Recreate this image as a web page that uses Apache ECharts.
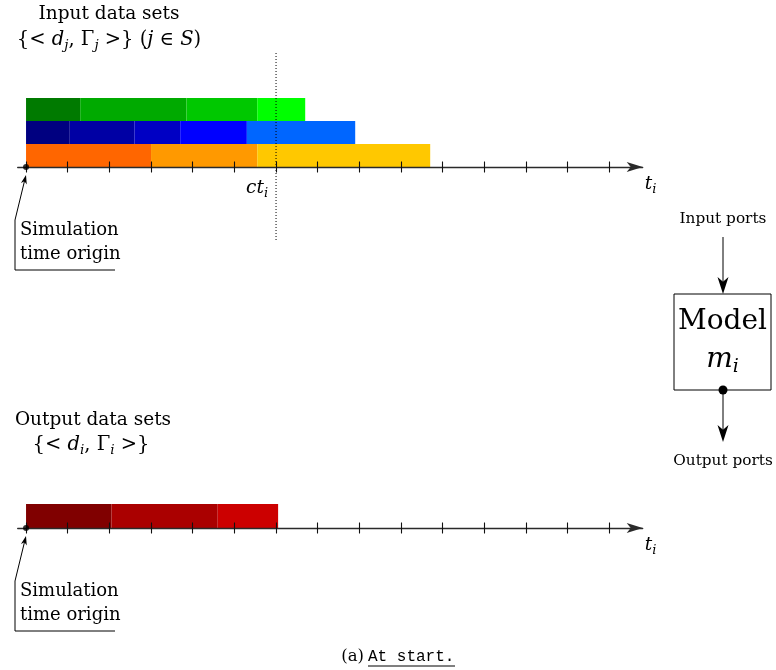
<!DOCTYPE html>
<html lang="en">
<head>
<meta charset="UTF-8">
<title>At start</title>
<script src="https://cdn.jsdelivr.net/npm/echarts@6/dist/echarts.min.js"></script>
<style>
html, body {margin: 0; background: #fff}
#main {width: 776px; height: 670px}
</style>
</head>
<body>
<div id="main"></div>
<script type="text/javascript">
// time axis ticks and the current time ct_i
var ticks = [0, 1, 2, 3, 4, 5, 6, 7, 8, 9, 10, 11, 12, 13, 14];
var currentTime = 6;

// segment boundaries of each data set (time units)
var greenEdges = [0, 1.3, 3.85, 5.55, 6.7];
var blueEdges = [0, 1.05, 2.6, 3.7, 5.3, 7.9];
var orangeEdges = [0, 3, 5.55, 9.7];
var redEdges = [0, 2.05, 4.6, 6.05];

var greenColors = ['#007a00', '#00aa00', '#00c800', '#00ff00'];
var blueColors = ['#000080', '#0000a4', '#0000c4', '#0000ff', '#0066ff'];
var orangeColors = ['#ff6600', '#ff9900', '#ffc800'];
var redColors = ['#800000', '#aa0000', '#cc0000'];

var SERIF = '"DejaVu Serif", serif';
var MONO = '"Liberation Mono", monospace';

function segments(edges, colors, row) {
    var out = [];
    for (var i = 0; i < edges.length - 1; i++) {
        out.push({value: [edges[i], edges[i + 1], row], itemStyle: {color: colors[i]}});
    }
    return out;
}

function renderSeg(params, api) {
    var p0 = api.coord([api.value(0), api.value(2) + 1]);
    var p1 = api.coord([api.value(1), api.value(2)]);
    return {
        type: 'rect',
        shape: {x: p0[0], y: p0[1], width: p1[0] - p0[0], height: p1[1] - p0[1]},
        style: {fill: api.visual('color')}
    };
}

function mathRich(size, subSize) {
    return {
        i: {fontFamily: SERIF, fontStyle: 'italic', fontSize: size, lineHeight: size + 6, color: '#000'},
        s: {fontFamily: SERIF, fontStyle: 'italic', fontSize: subSize, lineHeight: subSize + 2,
            verticalAlign: 'bottom', color: '#000'}
    };
}

function txt(x, y, text, size, align, extra) {
    var style = {text: text, x: x, y: y, fontFamily: SERIF, fontSize: size, lineHeight: size + 6,
        fill: '#000', align: align || 'center', verticalAlign: 'middle'};
    for (var k in (extra || {})) style[k] = extra[k];
    return {type: 'text', style: style, z: 20};
}

// stealth arrow head, tip at (x, y), coming from (fx, fy)
function head(x, y, fx, fy, len, hw) {
    var dx = x - fx, dy = y - fy;
    var d = Math.sqrt(dx * dx + dy * dy);
    dx /= d; dy /= d;
    var bx = x - dx * len, by = y - dy * len;
    var nx = x - dx * len * 0.72, ny = y - dy * len * 0.72;
    return {
        type: 'polygon', z: 20,
        shape: {points: [[x, y], [bx - dy * hw, by + dx * hw], [nx, ny], [bx + dy * hw, by - dx * hw]]},
        style: {fill: '#000'}
    };
}

function line(points) {
    return {type: 'polyline', z: 20, shape: {points: points},
        style: {stroke: '#000', lineWidth: 1, fill: null}};
}

function originNote(dy) {
    return [
        line([[115, 270 + dy], [15, 270 + dy], [15, 220 + dy], [24.5, 181 + dy]]),
        head(26, 175 + dy, 15, 220 + dy, 9, 3),
        txt(20, 230 + dy, 'Simulation', 18, 'left'),
        txt(20, 254 + dy, 'time origin', 18, 'left')
    ];
}

var inputData = [].concat(
    segments(orangeEdges, orangeColors, 0),
    segments(blueEdges, blueColors, 1),
    segments(greenEdges, greenColors, 2)
);
var outputData = segments(redEdges, redColors, 0);

var gridLeft = 17.7, gridWidth = 625;
var axisMin = -0.2, axisMax = 14.8;

function mainAxis(gridIndex, withLabel) {
    return {
        type: 'value', gridIndex: gridIndex, min: axisMin, max: axisMax, position: 'bottom', z: 5,
        splitLine: {show: false},
        axisLine: {onZero: false, lineStyle: {color: '#2a2a2a', width: 1.3},
            symbol: ['none', 'arrow'], symbolSize: [7.5, 16]},
        axisTick: {customValues: ticks, length: 5.5, lineStyle: {color: '#111', width: 1.1}},
        axisLabel: withLabel ? {
            customValues: [currentTime], align: 'right', padding: [0, 8, 0, 0], margin: 9,
            color: '#000',
            formatter: function () { return '{i|ct}{s|i}'; },
            rich: mathRich(18.5, 13)
        } : {show: false},
        name: '{i|t}{s|i}', nameLocation: 'end', nameGap: 2,
        nameTextStyle: {verticalAlign: 'top', padding: [5, 0, 0, 0], color: '#000', rich: mathRich(18.5, 13)}
    };
}

function upTicks(gridIndex) {
    return {
        type: 'value', gridIndex: gridIndex, min: axisMin, max: axisMax, position: 'bottom', z: 5,
        splitLine: {show: false},
        axisLine: {show: false, onZero: false},
        axisTick: {customValues: ticks, inside: true, length: 5.5, lineStyle: {color: '#111', width: 1.1}},
        axisLabel: {show: false}
    };
}

var myChart = echarts.init(document.getElementById('main'));

myChart.setOption({
    animation: false,
    backgroundColor: '#fff',
    grid: [
        {left: gridLeft, width: gridWidth, top: 98, height: 69},
        {left: gridLeft, width: gridWidth, top: 52, height: 188},
        {left: gridLeft, width: gridWidth, top: 504, height: 24}
    ],
    xAxis: [
        mainAxis(0, true),
        upTicks(0),
        {type: 'value', gridIndex: 1, min: axisMin, max: axisMax, show: false},
        mainAxis(2, false),
        upTicks(2)
    ],
    yAxis: [
        {type: 'value', gridIndex: 0, min: 0, max: 3, show: false},
        {type: 'value', gridIndex: 1, min: 0, max: 1, show: false},
        {type: 'value', gridIndex: 2, min: 0, max: 1, show: false}
    ],
    series: [
        {
            name: 'input', type: 'custom', xAxisIndex: 0, yAxisIndex: 0,
            renderItem: renderSeg, encode: {x: [0, 1], y: 2}, data: inputData
        },
        {
            name: 'ct', type: 'line', xAxisIndex: 2, yAxisIndex: 1, z: 4,
            symbol: 'none', data: [[currentTime, 0], [currentTime, 1]],
            lineStyle: {color: '#000', width: 1, type: [1, 2]}
        },
        {
            name: 'origin', type: 'scatter', xAxisIndex: 0, yAxisIndex: 0, z: 10, clip: false,
            symbolSize: 6, itemStyle: {color: '#000'}, data: [[0, 0]]
        },
        {
            name: 'output', type: 'custom', xAxisIndex: 3, yAxisIndex: 2,
            renderItem: renderSeg, encode: {x: [0, 1], y: 2}, data: outputData
        },
        {
            name: 'origin2', type: 'scatter', xAxisIndex: 3, yAxisIndex: 2, z: 10, clip: false,
            symbolSize: 6, itemStyle: {color: '#000'}, data: [[0, 0]]
        }
    ],
    graphic: [].concat(
        [
            {type: 'rect', z: 15, shape: {x: 674, y: 294, width: 97, height: 96},
                style: {stroke: '#000', lineWidth: 1, fill: '#fff'}},
            txt(109, 14, 'Input data sets', 18.5),
            txt(109, 40, '{< {i|d}{s|j}, Γ{s|j} >} ({i|j} ∈ {i|S})', 19.5, 'center', {rich: mathRich(19.5, 13.5)}),
            txt(93, 420, 'Output data sets', 18.5),
            txt(91, 445, '{< {i|d}{s|i}, Γ{s|i} >}', 19.5, 'center', {rich: mathRich(19.5, 13.5)}),
            txt(723, 219, 'Input ports', 15.3),
            txt(723, 461, 'Output ports', 15.3),
            txt(722.5, 322, 'Model', 28),
            txt(722.5, 360, '{i|m}{s|i}', 28, 'center', {rich: mathRich(28, 19)}),
            txt(364, 657, '(a)', 16.5, 'right'),
            txt(368, 657, 'At start.', 16, 'left', {fontFamily: MONO}),
            line([[368, 666], [455, 666]]),
            line([[723, 237], [723, 284]]),
            head(723, 294, 723, 237, 17, 5.5),
            line([[723, 390], [723, 432]]),
            head(723, 442, 723, 390, 17, 5.5),
            {type: 'circle', z: 21, shape: {cx: 723, cy: 390, r: 4.5}, style: {fill: '#000'}}
        ],
        originNote(0),
        originNote(361)
    )
});
</script>
</body>
</html>
